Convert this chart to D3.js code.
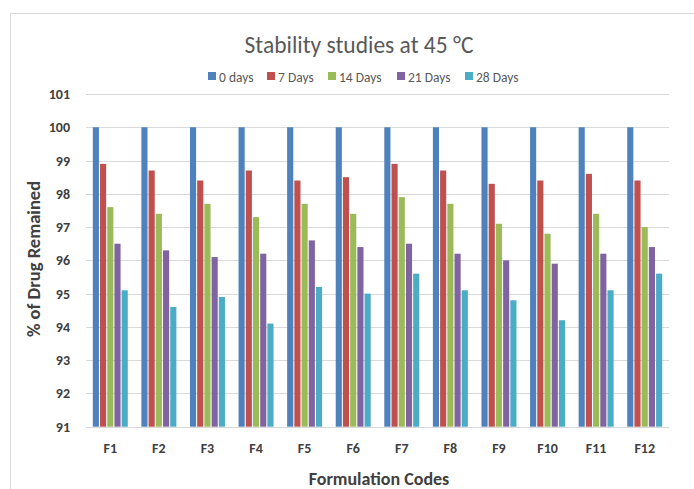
<!DOCTYPE html>
<html><head><meta charset="utf-8">
<script src="https://cdn.jsdelivr.net/npm/d3@7"></script>
<style>body{margin:0;background:#fff}svg{display:block}</style>
</head><body>
<svg id="c" width="694" height="489"></svg>
<script>
const categories = ["F1","F2","F3","F4","F5","F6","F7","F8","F9","F10","F11","F12"];
const seriesNames = ["0 days","7 Days","14 Days","21 Days","28 Days"];
const days0  = [100,100,100,100,100,100,100,100,100,100,100,100];
const days7  = [98.9,98.7,98.4,98.7,98.4,98.5,98.9,98.7,98.3,98.4,98.6,98.4];
const days14 = [97.6,97.4,97.7,97.3,97.7,97.4,97.9,97.7,97.1,96.8,97.4,97.0];
const days21 = [96.5,96.3,96.1,96.2,96.6,96.4,96.5,96.2,96.0,95.9,96.2,96.4];
const days28 = [95.1,94.6,94.9,94.1,95.2,95.0,95.6,95.1,94.8,94.2,95.1,95.6];
const yTicks = [91,92,93,94,95,96,97,98,99,100,101];
const colors = ["#4F81BD","#C0504D","#9BBB59","#8064A2","#4BACC6"];
const seriesValues = [days0, days7, days14, days21, days28];

const svg = d3.select("#c");
const font = "Carlito, Lato, 'Open Sans', sans-serif";
const m = {left:86, right:25, top:94, bottom:63};

svg.append("rect").attr("x",10.5).attr("y",13.5).attr("width",700).attr("height",500)
  .attr("fill","#fff").attr("stroke","#d9d9d9");

const x = d3.scaleBand().domain(categories).range([m.left, 669]).paddingInner(0.28).paddingOuter(0.14);
const xs = d3.scaleBand().domain(seriesNames).range([0, x.bandwidth()]).paddingInner(0.15);
const y = d3.scaleLinear().domain([91,101]).range([426.7, 94]);

// gridlines
svg.append("g").selectAll("line").data(yTicks).join("line")
  .attr("x1", m.left).attr("x2", 669)
  .attr("y1", d => Math.round(y(d))+0.5).attr("y2", d => Math.round(y(d))+0.5)
  .attr("stroke","#d9d9d9").attr("stroke-width",1);

// y axis labels
const ya = svg.append("g").attr("transform",`translate(${m.left-13},0)`)
  .call(d3.axisLeft(y).tickValues(yTicks).tickSize(0).tickFormat(d3.format("d")));
ya.select(".domain").remove();
ya.selectAll("text").attr("font-family",font).attr("font-size",14).attr("font-weight","bold").attr("fill","#404040");

// x axis labels
const xa = svg.append("g").attr("transform",`translate(0,${y(91)+13})`)
  .call(d3.axisBottom(x).tickSize(0));
xa.select(".domain").remove();
xa.selectAll("text").attr("font-family",font).attr("font-size",14).attr("font-weight","bold").attr("fill","#404040");

// bars
const groups = svg.append("g").selectAll("g").data(categories).join("g")
  .attr("transform", d => `translate(${x(d)},0)`);
groups.selectAll("rect").data((d,i) => seriesNames.map((s,j) => ({s, v: seriesValues[j][i], j})))
  .join("rect")
  .attr("x", d => xs(d.s)).attr("width", xs.bandwidth())
  .attr("y", d => y(d.v)).attr("height", d => y(91) - y(d.v))
  .attr("fill", d => colors[d.j]);

// title
svg.append("text").attr("x",359).attr("y",53).attr("text-anchor","middle")
  .attr("font-family",font).attr("font-size",23.5).attr("fill","#595959")
  .text("Stability studies at 45 °C");

// legend
const lg = svg.append("g");
const legendX = [208, 267, 328, 397, 465];
seriesNames.forEach((s,i) => {
  lg.append("rect").attr("x",legendX[i]).attr("y",72).attr("width",8).attr("height",8).attr("fill",colors[i]);
  lg.append("text").attr("x",legendX[i]+11).attr("y",81.5).attr("font-family",font).attr("font-size",13.5)
    .attr("fill","#595959").text(s);
});

// axis titles
svg.append("text").attr("x",379).attr("y",485).attr("text-anchor","middle")
  .attr("font-family",font).attr("font-size",18).attr("font-weight","bold").attr("fill","#404040")
  .text("Formulation Codes");
svg.append("text").attr("transform","translate(40,259) rotate(-90)").attr("text-anchor","middle")
  .attr("font-family",font).attr("font-size",18.5).attr("font-weight","bold").attr("fill","#404040")
  .text("% of Drug Remained");
</script>
</body></html>
